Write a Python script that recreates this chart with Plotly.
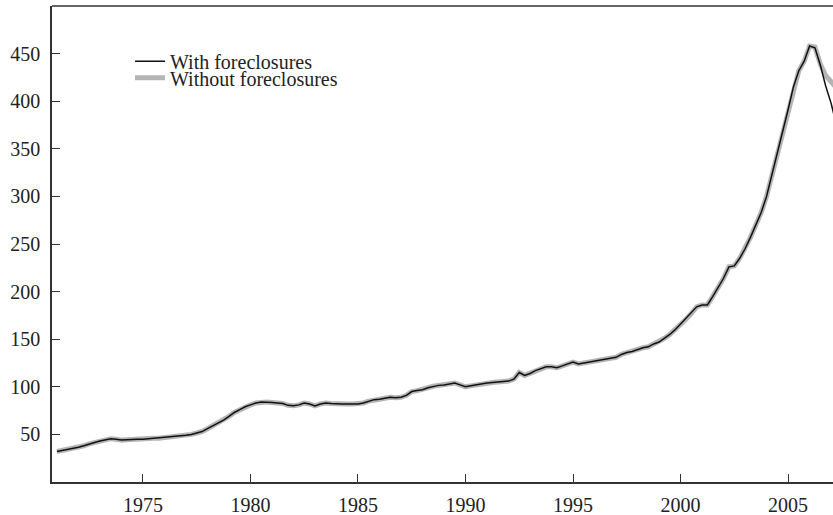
import plotly.graph_objects as go

# Quarterly dates 1971Q1 .. 2007Q2
years = list(range(1971, 2008))
quarters = [y + q / 4 for y in years for q in range(4)][:146]

with_fc = [
    32, 33, 34, 35,            # 1971
    36.5, 38, 40, 41.5,        # 1972
    43, 44.5, 45.5, 45,        # 1973
    44, 44.5, 45, 45,          # 1974
    45, 45.5, 46, 46,          # 1975
    46.5, 47, 47.5, 48,        # 1976
    49, 50, 51.5, 53,          # 1977
    56, 59, 62, 65,            # 1978
    69, 73, 76, 79,            # 1979
    81, 83, 84, 84,            # 1980
    83.5, 83, 82.5, 80.5,      # 1981
    80, 81, 83, 82,            # 1982
    80, 82, 83, 82.5,          # 1983
    82, 82, 82, 82,            # 1984
    82, 83, 85, 86.5,          # 1985
    87, 88, 89, 88.5,          # 1986
    89, 91, 95, 96,            # 1987
    97, 99, 100.5, 101.5,      # 1988
    102, 103, 104, 102,        # 1989
    100, 101, 102, 103.5,      # 1990
    104, 104.5, 105, 105,      # 1991
    106, 108, 115, 112,        # 1992
    114, 117, 119, 121,        # 1993
    121, 120, 122, 124,        # 1994
    126, 124, 125, 126.5,      # 1995
    127, 128, 129, 130,        # 1996
    131, 134, 136, 137,        # 1997
    139, 141, 142, 145,        # 1998
    147, 151, 155, 160,        # 1999
    166, 171, 177, 184,        # 2000
    186, 186, 195, 204,        # 2001
    214, 226, 227, 235,        # 2002
    245, 257, 270, 283,        # 2003
    300, 322, 345, 368,        # 2004
    391, 415, 432, 442,        # 2005
    458, 456, 438, 416,        # 2006
    398, 375,                  # 2007
]

without_fc = [
    32, 33, 34, 35,            # 1971
    36.5, 38, 40, 41.5,        # 1972
    43, 44.5, 45.5, 45,        # 1973
    44, 44.5, 45, 45,          # 1974
    45, 45.5, 46, 46,          # 1975
    46.5, 47, 47.5, 48,        # 1976
    49, 50, 51.5, 53,          # 1977
    56, 59, 62, 65,            # 1978
    69, 73, 76, 79,            # 1979
    81, 83, 84, 84,            # 1980
    83.5, 83, 82.5, 80.5,      # 1981
    80, 81, 83, 82,            # 1982
    80, 82, 83, 82.5,          # 1983
    82, 82, 82, 82,            # 1984
    82, 83, 85, 86.5,          # 1985
    87, 88, 89, 88.5,          # 1986
    89, 91, 95, 96,            # 1987
    97, 99, 100.5, 101.5,      # 1988
    102, 103, 104, 102,        # 1989
    100, 101, 102, 103.5,      # 1990
    104, 104.5, 105, 105,      # 1991
    106, 108, 115, 112,        # 1992
    114, 117, 119, 121,        # 1993
    121, 120, 122, 124,        # 1994
    126, 124, 125, 126.5,      # 1995
    127, 128, 129, 130,        # 1996
    131, 134, 136, 137,        # 1997
    139, 141, 142, 145,        # 1998
    147, 151, 155, 160,        # 1999
    166, 171, 177, 184,        # 2000
    186, 186, 195, 204,        # 2001
    214, 226, 227, 235,        # 2002
    245, 257, 270, 283,        # 2003
    300, 322, 345, 368,        # 2004
    391, 415, 432, 442,        # 2005
    458, 457, 439, 427,        # 2006
    421, 414,                  # 2007
]

x_ticks = [1975, 1980, 1985, 1990, 1995, 2000, 2005]
y_ticks = [50, 100, 150, 200, 250, 300, 350, 400, 450]

FONT = "Liberation Serif, Times New Roman, serif"

fig = go.Figure()
fig.add_trace(go.Scatter(
    x=quarters, y=without_fc, mode="lines", name="Without foreclosures",
    line=dict(color="#b5b5b5", width=5), legend="legend2",
))
fig.add_trace(go.Scatter(
    x=quarters, y=with_fc, mode="lines", name="With foreclosures",
    line=dict(color="#111111", width=1.5), legend="legend",
))

legend_common = dict(
    xanchor="left", yanchor="top", bgcolor="rgba(0,0,0,0)",
    font=dict(size=20, family=FONT, color="#222222"), itemwidth=30,
)

fig.update_layout(
    width=833, height=515,
    margin=dict(l=52, r=0, t=6, b=33, autoexpand=False),
    paper_bgcolor="white", plot_bgcolor="white",
    font=dict(family=FONT, size=20, color="#222222"),
    showlegend=True,
    legend=dict(x=0.0999, y=0.925, **legend_common),
    legend2=dict(x=0.0999, y=0.89, **legend_common),
    shapes=[dict(type="line", xref="paper", yref="paper", x0=0, x1=1, y0=1, y1=1,
                 line=dict(color="#333333", width=1.5))],
)
fig.update_xaxes(
    range=[1970.77, 2007.09], tickvals=x_ticks, ticktext=[str(v) for v in x_ticks],
    showgrid=False, zeroline=False, showline=True, linecolor="#333333", linewidth=1.5,
    ticks="inside", ticklen=8, tickcolor="#333333", tickwidth=1.2,
    ticklabelstandoff=4, automargin=False,
)
fig.update_yaxes(
    range=[0, 500], tickvals=y_ticks, ticktext=[str(v) for v in y_ticks],
    showgrid=False, zeroline=False, showline=True, linecolor="#333333", linewidth=1.5,
    ticks="inside", ticklen=8, tickcolor="#333333", tickwidth=1.2,
    ticklabelstandoff=6, automargin=False,
)

fig.write_html(
    "out.html",
    config={"displayModeBar": False},
    post_script="document.body.style.margin='0';document.body.style.overflow='hidden';",
)
